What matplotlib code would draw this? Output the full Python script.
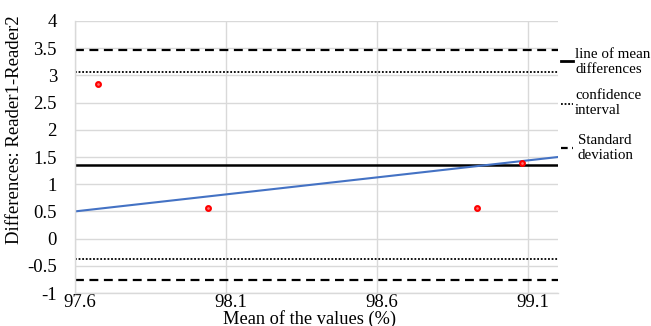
import matplotlib.pyplot as plt
from matplotlib.lines import Line2D
from matplotlib.transforms import ScaledTranslation

plt.rcParams['font.family'] = ['Liberation Serif', 'DejaVu Serif']

# measurements
mean_vals = [97.675, 98.04, 98.93, 99.08]
diffs = [2.85, 0.57, 0.57, 1.39]

# reference lines
mean_diff = 1.345
conf_lo, conf_hi = -0.375, 3.065
sd_lo, sd_hi = -0.77, 3.46

# trend line
trend_x = [97.6, 99.2]
trend_y = [0.5, 1.5]

xticks = [97.6, 98.1, 98.6, 99.1]
yticks = [-1, -0.5, 0, 0.5, 1, 1.5, 2, 2.5, 3, 3.5, 4]

key_labels = ['line of mean\ndifferences', 'confidence\ninterval', 'Standard\ndeviation']

fig = plt.figure(figsize=(6.51, 3.26), dpi=100)
ax = fig.add_axes([0.1152, 0.1012, 0.742, 0.8344])

ax.set_xlim(97.6, 99.2)
ax.set_ylim(-1, 4)
ax.set_xticks(xticks)
ax.set_xticklabels([str(v) for v in xticks])
ax.set_yticks(yticks)
ax.set_yticklabels([('%g' % v) for v in yticks])
ax.grid(True, color='#d9d9d9', linewidth=1)
ax.set_axisbelow(True)
for s in ['top', 'right']:
    ax.spines[s].set_visible(False)
for s in ['left', 'bottom']:
    ax.spines[s].set_color('#d9d9d9')
    ax.spines[s].set_linewidth(1)
ax.tick_params(length=0, labelsize=13.5)
ax.tick_params(axis='x', pad=1)
ax.tick_params(axis='y', pad=13)
shift = ScaledTranslation(5/100, 0, fig.dpi_scale_trans)
for lab in ax.get_xticklabels():
    lab.set_transform(lab.get_transform() + shift)

dash = (0, (4, 2.5))
ax.axhline(sd_hi, color='black', lw=1.6, ls=dash)
ax.axhline(sd_lo, color='black', lw=1.6, ls=dash)
ax.axhline(conf_hi, color='black', lw=1.3, ls=(0, (1, 1)))
ax.axhline(conf_lo, color='black', lw=1.3, ls=(0, (1, 1)))
ax.axhline(mean_diff, color='black', lw=1.8)

ax.plot(trend_x, trend_y, color='#4472c4', lw=1.5)
ax.scatter(mean_vals, diffs, s=12, facecolor='#ff7070', edgecolor='#ff0000',
           linewidth=1.5, zorder=5)

ax.set_ylabel('Differences: Reader1-Reader2', fontsize=13.5)
ax.yaxis.set_label_coords(-0.108, 0.6)
ax.set_xlabel('Mean of the values (%)', fontsize=13.2)
ax.xaxis.set_label_coords(0.485, -0.062)

# key at the right side
key_y = [61, 104, 148]
key_ty = [62, 103, 148]
key_tx = [575, 575, 578]
key_styles = [('-', 2.0), ((0, (1, 1)), 1.3), ((0, (3, 2)), 1.6)]
for y, ty, tx, (style, lw), text in zip(key_y, key_ty, key_tx, key_styles, key_labels):
    fig.add_artist(Line2D([561/651, 573/651], [1 - y/326] * 2, color='black',
                          lw=lw, ls=style))
    fig.text(tx/651, 1 - ty/326, text, fontsize=10.8, va='center',
             linespacing=1.2)

fig.savefig('out.png', dpi=100)
